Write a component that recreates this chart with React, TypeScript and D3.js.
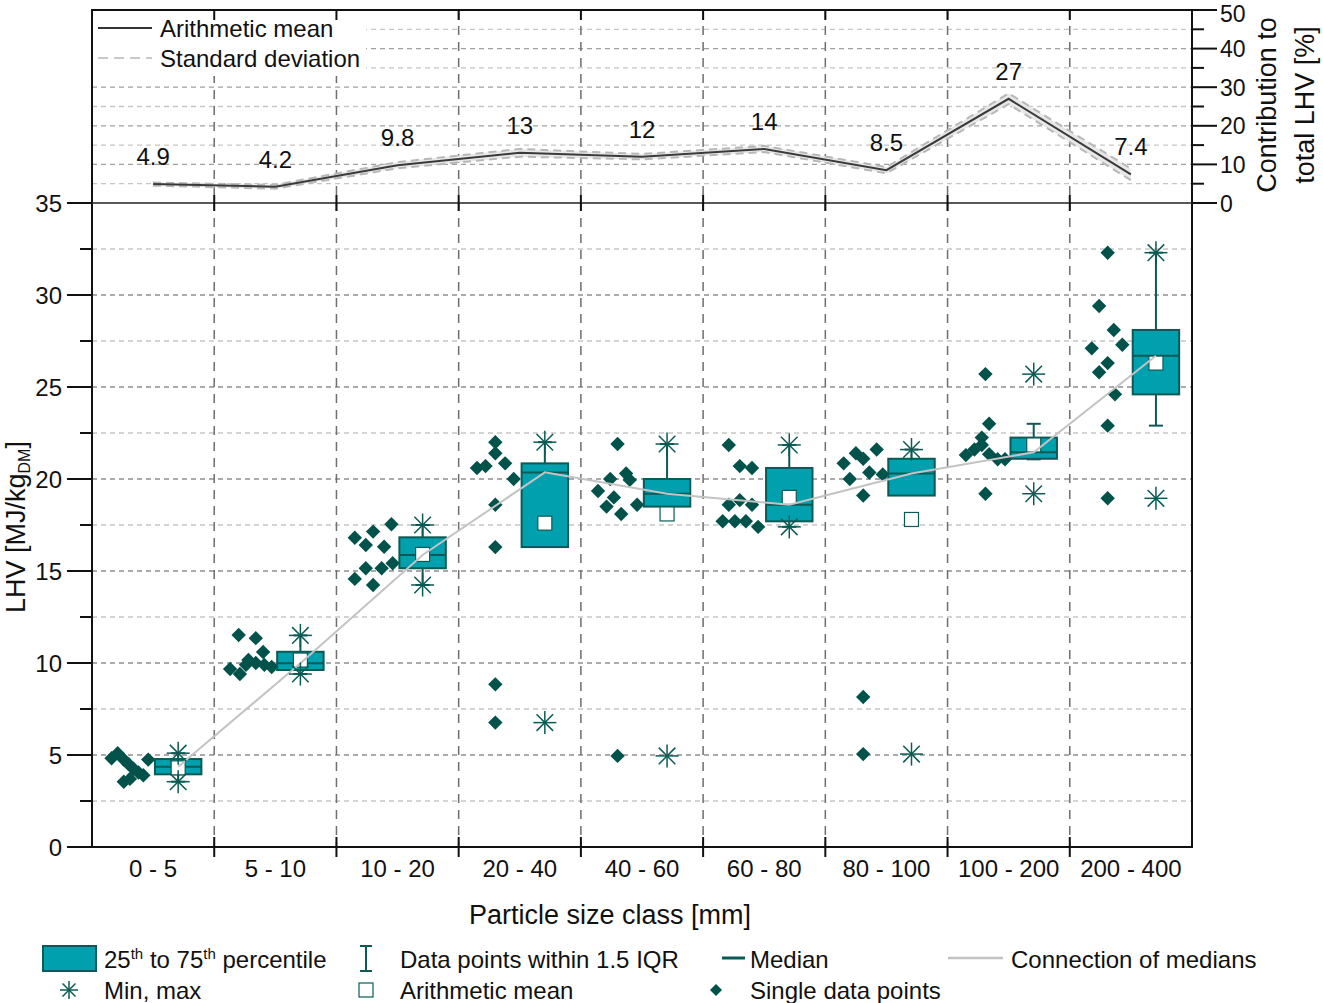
import React from 'react';
import * as d3 from 'd3';

// particle size classes [mm]
const categories = ['0 - 5', '5 - 10', '10 - 20', '20 - 40', '40 - 60', '60 - 80', '80 - 100', '100 - 200', '200 - 400'];

// top panel: contribution to total LHV [%]
const contribution = [4.9, 4.2, 9.8, 13, 12, 14, 8.5, 27, 7.4];
const contributionSd = [0.4, 0.5, 0.8, 1.0, 0.7, 0.8, 0.8, 1.4, 1.5];
const contributionLabels = ['4.9', '4.2', '9.8', '13', '12', '14', '8.5', '27', '7.4'];

// box statistics, LHV [MJ/kg DM]
const q1 = [3.95, 9.62, 15.15, 16.3, 18.5, 17.7, 19.1, 21.1, 24.6];
const q3 = [4.78, 10.61, 16.83, 20.85, 20.0, 20.6, 21.1, 22.25, 28.1];
const median = [4.36, 9.98, 15.87, 20.36, 19.2, 18.6, 20.3, 21.45, 26.7];
const mean = [4.3, 10.16, 15.9, 17.6, 18.1, 19.0, 17.8, 21.85, 26.3];
const whiskerLow = [3.55, 9.4, 14.24, 16.3, 18.5, 17.4, 19.1, 21.07, 22.9];
const whiskerHigh = [5.1, 11.5, 17.5, 22.0, 21.9, 21.85, 21.6, 23.0, 32.3];
const minVal = [3.55, 9.4, 14.24, 6.76, 4.95, 17.4, 5.05, 19.2, 18.95];
const maxVal = [5.1, 11.5, 17.5, 22.0, 21.9, 21.85, 21.6, 25.7, 32.3];

// single data points per class and their horizontal jitter (fraction of class width)
const points = [
  [4.82, 5.1, 4.75, 4.5, 4.25, 4.05, 3.9, 4.75, 3.55, 3.7],
  [11.52, 11.35, 10.6, 10.16, 9.67, 9.4, 9.9, 10.0, 9.9, 9.78],
  [16.81, 17.14, 17.54, 16.41, 16.32, 15.15, 14.57, 14.24, 15.15, 15.42],
  [22.0, 21.4, 20.6, 20.7, 20.85, 20.0, 18.6, 16.3, 8.84, 6.76],
  [21.9, 20.0, 20.3, 19.95, 19.35, 19.0, 18.6, 18.5, 18.1, 4.95],
  [21.85, 20.7, 20.6, 18.6, 18.85, 18.6, 17.7, 17.7, 17.7, 17.4],
  [20.85, 21.4, 21.1, 21.6, 20.0, 20.35, 20.25, 19.1, 8.15, 5.05],
  [25.7, 23.0, 22.25, 21.3, 21.6, 21.85, 21.35, 21.07, 21.07, 19.2],
  [32.3, 29.4, 28.1, 27.3, 27.1, 26.3, 25.8, 24.6, 22.9, 18.95],
];
const jitter = [
  [-0.34, -0.29, -0.24, -0.2, -0.16, -0.12, -0.08, -0.04, -0.24, -0.19],
  [-0.3, -0.16, -0.1, -0.22, -0.37, -0.29, -0.24, -0.16, -0.09, -0.03],
  [-0.35, -0.2, -0.05, -0.26, -0.11, -0.26, -0.35, -0.2, -0.13, -0.04],
  [-0.2, -0.2, -0.35, -0.28, -0.12, -0.05, -0.2, -0.2, -0.2, -0.2],
  [-0.2, -0.26, -0.13, -0.1, -0.36, -0.23, -0.04, -0.29, -0.17, -0.2],
  [-0.29, -0.2, -0.1, -0.29, -0.2, -0.1, -0.34, -0.24, -0.15, -0.05],
  [-0.35, -0.25, -0.19, -0.08, -0.3, -0.14, -0.03, -0.19, -0.19, -0.19],
  [-0.19, -0.16, -0.22, -0.35, -0.28, -0.22, -0.16, -0.09, -0.03, -0.19],
  [-0.19, -0.26, -0.14, -0.07, -0.32, -0.19, -0.26, -0.13, -0.19, -0.19],
];

const lhvTicks = [0, 5, 10, 15, 20, 25, 30, 35];
const pctTicks = [0, 10, 20, 30, 40, 50];

const FONT = '"Liberation Sans", Arial, sans-serif';
const TEAL = '#00a0ae';
const DARK = '#0b5a55';
const DIAMOND = '#00524a';
const MEDLINE = '#c3c3c3';

const Asterisk: React.FC<{ x: number; y: number; r: number }> = ({ x, y, r }) => {
  const d = r * 0.72;
  return (
    <g stroke={DARK} strokeWidth={1.5}>
      <line x1={x} y1={y - r} x2={x} y2={y + r} />
      <line x1={x - r} y1={y} x2={x + r} y2={y} />
      <line x1={x - d} y1={y - d} x2={x + d} y2={y + d} />
      <line x1={x - d} y1={y + d} x2={x + d} y2={y - d} />
    </g>
  );
};

const diamondPath = (x: number, y: number, s: number) => `M${x},${y - s}L${x + s},${y}L${x},${y + s}L${x - s},${y}Z`;

const App: React.FC = () => {
  const W = 1323, H = 1003;
  const L = 92, R = 1192, T = 10, MID = 203, B = 847;

  const x = d3.scaleBand<string>().domain(categories).range([L, R]);
  const bw = x.bandwidth();
  const cx = (i: number) => (x(categories[i]) as number) + bw / 2;
  const bx = (i: number) => cx(i) + bw * 0.205;
  const boxW = bw * 0.38;
  const y = d3.scaleLinear().domain([0, 35]).range([B, MID]);
  const yTop = d3.scaleLinear().domain([0, 50]).range([MID, T]);

  const idx = d3.range(categories.length);
  const meanLine = d3.line<number>().x(i => cx(i)).y(i => yTop(contribution[i]));
  const sdUpper = d3.line<number>().x(i => cx(i)).y(i => yTop(contribution[i] + contributionSd[i]));
  const sdLower = d3.line<number>().x(i => cx(i)).y(i => yTop(contribution[i] - contributionSd[i]));
  const sdArea = d3.area<number>().x(i => cx(i))
    .y0(i => yTop(contribution[i] - contributionSd[i]))
    .y1(i => yTop(contribution[i] + contributionSd[i]));
  const medianLine = d3.line<number>().x(i => bx(i)).y(i => y(median[i]));

  const boundaries = d3.range(1, categories.length).map(i => L + i * bw);

  return (
    <div style={{ position: 'absolute', left: 0, top: 0 }}>
      <svg width={W} height={H} fontFamily={FONT} style={{ display: 'block', background: '#fff' }}>
        {/* main grid */}
        {d3.range(2.5, 35, 2.5).map(v => (
          <line key={'g' + v} x1={L} x2={R} y1={y(v)} y2={y(v)}
            stroke={v % 5 === 0 ? '#8e8e8e' : '#c6c6c6'} strokeWidth={1.3} strokeDasharray="5,4" />
        ))}
        {/* top grid */}
        {d3.range(5, 50, 5).map(v => (
          <line key={'t' + v} x1={L} x2={R} y1={yTop(v)} y2={yTop(v)}
            stroke={v % 10 === 0 ? '#a0a0a0' : '#c6c6c6'} strokeWidth={1.3} strokeDasharray="5,4" />
        ))}
        {boundaries.map(bx0 => (
          <line key={'v' + bx0} x1={bx0} x2={bx0} y1={T} y2={B} stroke="#6e6e6e" strokeWidth={1.5} strokeDasharray="9,7" />
        ))}

        {/* top legend box */}
        <rect x={L + 1} y={T + 1} width={273} height={65} fill="#fff" />
        <line x1={98} x2={152} y1={28} y2={28} stroke="#333" strokeWidth={2} />
        <text x={160} y={37} fontSize={24} fill="#111">Arithmetic mean</text>
        <line x1={98} x2={152} y1={58} y2={58} stroke="#c8c8c8" strokeWidth={2} strokeDasharray="10,6" />
        <text x={160} y={67} fontSize={24} fill="#111">Standard deviation</text>

        {/* top panel: contribution */}
        <path d={sdArea(idx) || ''} fill="#e8e8e8" />
        <path d={sdUpper(idx) || ''} fill="none" stroke="#b8b8b8" strokeWidth={2} strokeDasharray="8,5" />
        <path d={sdLower(idx) || ''} fill="none" stroke="#b8b8b8" strokeWidth={2} strokeDasharray="8,5" />
        <path d={meanLine(idx) || ''} fill="none" stroke="#3a3a3a" strokeWidth={2} />
        {idx.map(i => (
          <text key={'cl' + i} x={cx(i)} y={yTop(contribution[i]) - 19} fontSize={24} textAnchor="middle" fill="#111">
            {contributionLabels[i]}
          </text>
        ))}

        {/* single data points */}
        {points.map((vals, i) => vals.map((v, k) => (
          <path key={`p${i}-${k}`} d={diamondPath(cx(i) + jitter[i][k] * bw, y(v), 7.2)} fill={DIAMOND} />
        )))}

        {/* boxes */}
        {idx.map(i => {
          const c = bx(i);
          return (
            <g key={'b' + i}>
              {whiskerHigh[i] > q3[i] && (
                <g stroke={DARK} strokeWidth={2}>
                  <line x1={c} x2={c} y1={y(q3[i])} y2={y(whiskerHigh[i])} />
                  <line x1={c - 7} x2={c + 7} y1={y(whiskerHigh[i])} y2={y(whiskerHigh[i])} />
                </g>
              )}
              {whiskerLow[i] < q1[i] && (
                <g stroke={DARK} strokeWidth={2}>
                  <line x1={c} x2={c} y1={y(q1[i])} y2={y(whiskerLow[i])} />
                  <line x1={c - 7} x2={c + 7} y1={y(whiskerLow[i])} y2={y(whiskerLow[i])} />
                </g>
              )}
              <rect x={c - boxW / 2} y={y(q3[i])} width={boxW} height={y(q1[i]) - y(q3[i])}
                fill={TEAL} stroke={DARK} strokeWidth={2} />
              <line x1={c - boxW / 2} x2={c + boxW / 2} y1={y(median[i])} y2={y(median[i])} stroke={DARK} strokeWidth={2} />
              <rect x={c - 7} y={y(mean[i]) - 7} width={14} height={14} fill="#fff" stroke={DARK} strokeWidth={1.2} />
            </g>
          );
        })}

        <path d={medianLine(idx) || ''} fill="none" stroke={MEDLINE} strokeWidth={2} />

        {idx.map(i => (
          <g key={'mm' + i}>
            <Asterisk x={bx(i)} y={y(maxVal[i])} r={11.5} />
            <Asterisk x={bx(i)} y={y(minVal[i])} r={11.5} />
          </g>
        ))}

        {/* frame and axes */}
        <rect x={L} y={T} width={R - L} height={B - T} fill="none" stroke="#111" strokeWidth={2} />
        <line x1={L} x2={R} y1={MID} y2={MID} stroke="#222" strokeWidth={1.5} />
        {boundaries.map(bx0 => (
          <g key={'tk' + bx0} stroke="#111" strokeWidth={2}>
            <line x1={bx0} x2={bx0} y1={T} y2={T + 10} />
            <line x1={bx0} x2={bx0} y1={MID - 8} y2={MID + 8} />
            <line x1={bx0} x2={bx0} y1={B - 10} y2={B + 10} />
          </g>
        ))}

        {/* left axis */}
        {lhvTicks.map(v => (
          <g key={'ly' + v}>
            <line x1={L - 25} x2={L} y1={y(v)} y2={y(v)} stroke="#111" strokeWidth={2} />
            <text x={62} y={y(v) + 8.5} fontSize={24} textAnchor="end" fill="#111">{v}</text>
          </g>
        ))}
        {d3.range(2.5, 35, 5).map(v => (
          <line key={'lm' + v} x1={L - 12} x2={L} y1={y(v)} y2={y(v)} stroke="#111" strokeWidth={2} />
        ))}

        {/* right axis (top panel) */}
        {pctTicks.map(v => (
          <g key={'ry' + v}>
            <line x1={R} x2={R + 25} y1={yTop(v)} y2={yTop(v)} stroke="#111" strokeWidth={2} />
            <text x={R + 28} y={Math.max(yTop(v) + 8.5, 22)} fontSize={23} fill="#111">{v}</text>
          </g>
        ))}
        {d3.range(5, 50, 10).map(v => (
          <line key={'rm' + v} x1={R} x2={R + 12} y1={yTop(v)} y2={yTop(v)} stroke="#111" strokeWidth={2} />
        ))}

        {/* category labels */}
        {idx.map(i => (
          <text key={'xl' + i} x={cx(i)} y={877} fontSize={24} textAnchor="middle" fill="#111">{categories[i]}</text>
        ))}

        {/* axis titles */}
        <text x={610} y={924} fontSize={27} textAnchor="middle" fill="#111">Particle size class [mm]</text>
        <text transform="translate(25,527) rotate(-90)" fontSize={27} textAnchor="middle" fill="#111">
          LHV [MJ/kg<tspan dy={5} fontSize={16}>DM</tspan><tspan dy={-5}>]</tspan>
        </text>
        <text transform="translate(1276,105) rotate(-90)" fontSize={27} textAnchor="middle" fill="#111">Contribution to</text>
        <text transform="translate(1314,105) rotate(-90)" fontSize={27} textAnchor="middle" fill="#111">total LHV [%]</text>

        {/* bottom legend */}
        <rect x={43} y={946} width={53} height={25} fill={TEAL} stroke={DARK} strokeWidth={2} />
        <text x={104} y={968} fontSize={24} fill="#111">
          25<tspan dy={-9} fontSize={15}>th</tspan><tspan dy={9}> to 75</tspan><tspan dy={-9} fontSize={15}>th</tspan><tspan dy={9}> percentile</tspan>
        </text>
        <g stroke={DARK} strokeWidth={2}>
          <line x1={366} x2={366} y1={946} y2={971} />
          <line x1={360} x2={372} y1={946} y2={946} />
          <line x1={360} x2={372} y1={971} y2={971} />
        </g>
        <text x={400} y={968} fontSize={24} fill="#111">Data points within 1.5 IQR</text>
        <line x1={722} x2={745} y1={958} y2={958} stroke={DARK} strokeWidth={3} />
        <text x={750} y={968} fontSize={24} fill="#111">Median</text>
        <line x1={948} x2={1003} y1={958} y2={958} stroke={MEDLINE} strokeWidth={2.5} />
        <text x={1011} y={968} fontSize={24} fill="#111">Connection of medians</text>

        <Asterisk x={69} y={990} r={9} />
        <text x={104} y={999} fontSize={24} fill="#111">Min, max</text>
        <rect x={359} y={983} width={14} height={14} fill="#fff" stroke={DARK} strokeWidth={1.2} />
        <text x={400} y={999} fontSize={24} fill="#111">Arithmetic mean</text>
        <path d={diamondPath(716, 990, 6)} fill={DIAMOND} />
        <text x={750} y={999} fontSize={24} fill="#111">Single data points</text>
      </svg>
    </div>
  );
};

export default App;
